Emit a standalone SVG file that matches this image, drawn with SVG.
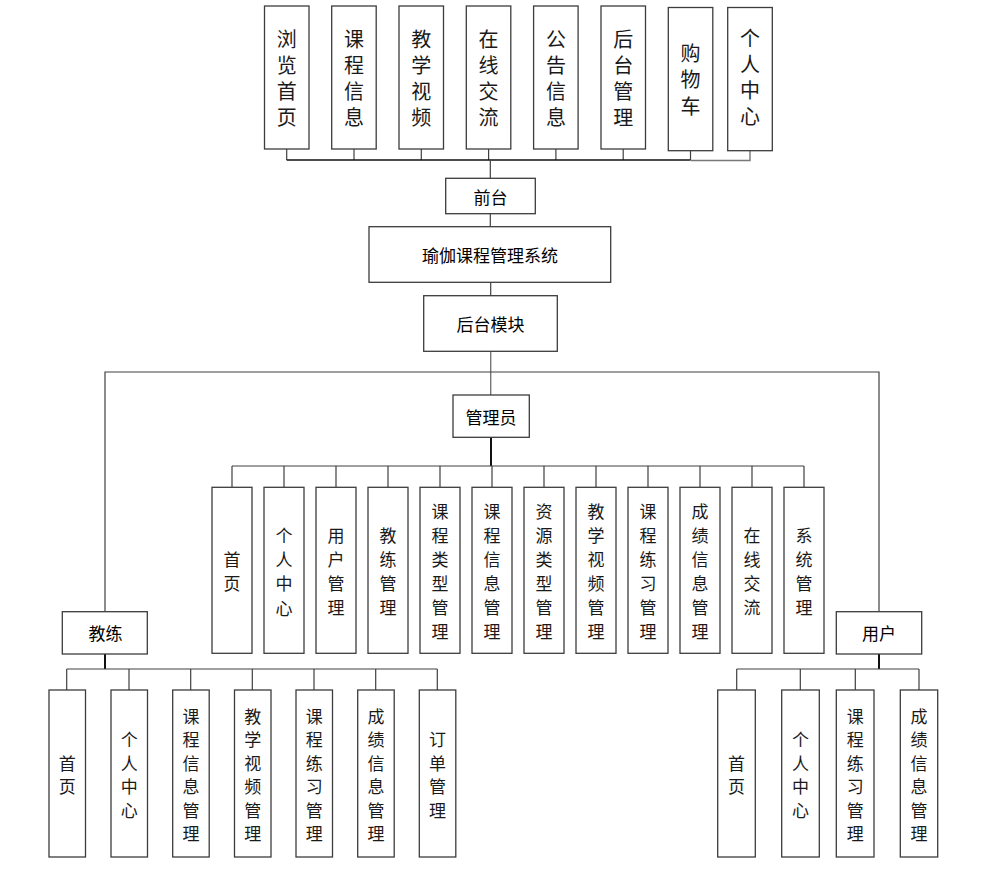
<svg xmlns="http://www.w3.org/2000/svg" width="983" height="881" viewBox="0 0 983 881">
<style>
.box{fill:#ffffff;stroke:#3c3c3c;stroke-width:1.3}
.ln{fill:none;stroke:#404040;stroke-width:1.2}
.lt{fill:none;stroke:#111111;stroke-width:2}
.lg{fill:none;stroke:#777777;stroke-width:1.4}
.t20{font-family:"Noto Sans CJK SC","Noto Sans",sans-serif;font-size:20px;fill:#1a1a1a;text-anchor:middle;dominant-baseline:central}
.t17{font-family:"Noto Sans CJK SC","Noto Sans",sans-serif;font-size:17px;fill:#1a1a1a;text-anchor:middle;dominant-baseline:central}
.lb{font-family:"Noto Sans CJK SC","Noto Sans",sans-serif;font-size:17px;fill:#000000;text-anchor:middle;dominant-baseline:central}
</style>
<rect width="983" height="881" fill="#ffffff"/>
<g id="connectors">
<!-- top bus -->
<path class="ln" d="M286.7 149V160M354 149V160M421.3 149V160M488.6 149V160M555.9 149V160M623.2 149V160M690.5 150.7V160"/>
<path class="lt" d="M286.7 160H690.5" style="stroke-width:1.6"/>
<path class="lg" d="M690.5 160.5H750V150.7"/>
<path class="ln" d="M490.3 160V178.3"/>
<path class="ln" d="M490.3 213.7V226.7"/>
<path class="ln" d="M490.7 282.3V295.7"/>
<path class="lg" d="M490.7 351.3V395"/>
<path class="ln" d="M105 612V372H879V612"/>
<!-- admin bus -->
<path class="lt" d="M491 437.3V466"/>
<path class="ln" d="M232 466H804"/>
<path class="ln" d="M232 466V487.3M284 466V487.3M336 466V487.3M388 466V487.3M440 466V487.3M492 466V487.3M544 466V487.3M596 466V487.3M648 466V487.3M700 466V487.3M752 466V487.3M804 466V487.3"/>
<!-- coach bus -->
<path class="lt" d="M105 654V669"/>
<path class="ln" d="M66.7 669H437.3"/>
<path class="ln" d="M66.7 669V690M129 669V690M190.7 669V690M252.3 669V690M314 669V690M375.7 669V690M437.3 669V690"/>
<!-- user bus -->
<path class="lt" d="M879 654V669"/>
<path class="ln" d="M736.7 669H919"/>
<path class="ln" d="M736.7 669V690M800.3 669V690M855.3 669V690M919 669V690"/>
</g>

<!-- top row -->
<g id="n-liulan"><rect class="box" x="264.5" y="6" width="44.5" height="143"/><text class="t20"><tspan x="286.7" y="37.5">浏</tspan><tspan x="286.7" y="63.8">览</tspan><tspan x="286.7" y="90.1">首</tspan><tspan x="286.7" y="116.4">页</tspan></text></g>
<g id="n-kcxx"><rect class="box" x="331.7" y="6" width="44.5" height="143"/><text class="t20"><tspan x="354" y="37.5">课</tspan><tspan x="354" y="63.8">程</tspan><tspan x="354" y="90.1">信</tspan><tspan x="354" y="116.4">息</tspan></text></g>
<g id="n-jxsp"><rect class="box" x="399" y="6" width="44.5" height="143"/><text class="t20"><tspan x="421.3" y="37.5">教</tspan><tspan x="421.3" y="63.8">学</tspan><tspan x="421.3" y="90.1">视</tspan><tspan x="421.3" y="116.4">频</tspan></text></g>
<g id="n-zxjl"><rect class="box" x="466.3" y="6" width="44.5" height="143"/><text class="t20"><tspan x="488.6" y="37.5">在</tspan><tspan x="488.6" y="63.8">线</tspan><tspan x="488.6" y="90.1">交</tspan><tspan x="488.6" y="116.4">流</tspan></text></g>
<g id="n-ggxx"><rect class="box" x="533.6" y="6" width="44.5" height="143"/><text class="t20"><tspan x="555.9" y="37.5">公</tspan><tspan x="555.9" y="63.8">告</tspan><tspan x="555.9" y="90.1">信</tspan><tspan x="555.9" y="116.4">息</tspan></text></g>
<g id="n-htgl"><rect class="box" x="601" y="6" width="44.5" height="143"/><text class="t20"><tspan x="623.2" y="37.5">后</tspan><tspan x="623.2" y="63.8">台</tspan><tspan x="623.2" y="90.1">管</tspan><tspan x="623.2" y="116.4">理</tspan></text></g>
<g id="n-gwc"><rect class="box" x="668.3" y="7.5" width="44.5" height="143.2"/><text class="t20"><tspan x="690.5" y="52">购</tspan><tspan x="690.5" y="78.3">物</tspan><tspan x="690.5" y="104.6">车</tspan></text></g>
<g id="n-grzx"><rect class="box" x="727.7" y="7.5" width="44.6" height="143.2"/><text class="t20"><tspan x="750" y="36.5">个</tspan><tspan x="750" y="62.8">人</tspan><tspan x="750" y="89.1">中</tspan><tspan x="750" y="115.4">心</tspan></text></g>

<g id="n-qiantai"><rect class="box" x="445.7" y="178.3" width="89.6" height="35.4"/><text class="lb" x="490.5" y="196">前台</text></g>
<g id="n-system"><rect class="box" x="369" y="226.7" width="241.7" height="55.6"/><text class="lb" x="490" y="254.5">瑜伽课程管理系统</text></g>
<g id="n-houtai"><rect class="box" x="423.7" y="295.7" width="133.6" height="55.6"/><text class="lb" x="490.5" y="323.5">后台模块</text></g>
<g id="n-admin"><rect class="box" x="453" y="395" width="76.3" height="42.3"/><text class="lb" x="491" y="416.2">管理员</text></g>
<g id="n-coach"><rect class="box" x="62.3" y="611.7" width="85" height="42.3"/><text class="lb" x="105.5" y="632.9">教练</text></g>
<g id="n-user"><rect class="box" x="836.3" y="611.7" width="85.4" height="42.3"/><text class="lb" x="879" y="632.9">用户</text></g>

<!-- admin row -->
<g id="a-sy"><rect class="box" x="212" y="487.3" width="40" height="166"/><text class="t17"><tspan x="232" y="558.3">首</tspan><tspan x="232" y="582.3">页</tspan></text></g>
<g id="a-grzx"><rect class="box" x="264" y="487.3" width="40" height="166"/><text class="t17"><tspan x="284" y="533.8">个</tspan><tspan x="284" y="558.1">人</tspan><tspan x="284" y="582.4">中</tspan><tspan x="284" y="606.7">心</tspan></text></g>
<g id="a-yhgl"><rect class="box" x="316" y="487.3" width="40" height="166"/><text class="t17"><tspan x="336" y="534.3">用</tspan><tspan x="336" y="558.3">户</tspan><tspan x="336" y="582.3">管</tspan><tspan x="336" y="606.3">理</tspan></text></g>
<g id="a-jlgl"><rect class="box" x="368" y="487.3" width="40" height="166"/><text class="t17"><tspan x="388" y="534.3">教</tspan><tspan x="388" y="558.3">练</tspan><tspan x="388" y="582.3">管</tspan><tspan x="388" y="606.3">理</tspan></text></g>
<g id="a-kclx"><rect class="box" x="420" y="487.3" width="40" height="166"/><text class="t17"><tspan x="440" y="510.3">课</tspan><tspan x="440" y="534.3">程</tspan><tspan x="440" y="558.3">类</tspan><tspan x="440" y="582.3">型</tspan><tspan x="440" y="606.3">管</tspan><tspan x="440" y="630.3">理</tspan></text></g>
<g id="a-kcxx"><rect class="box" x="472" y="487.3" width="40" height="166"/><text class="t17"><tspan x="492" y="510.3">课</tspan><tspan x="492" y="534.3">程</tspan><tspan x="492" y="558.3">信</tspan><tspan x="492" y="582.3">息</tspan><tspan x="492" y="606.3">管</tspan><tspan x="492" y="630.3">理</tspan></text></g>
<g id="a-zylx"><rect class="box" x="524" y="487.3" width="40" height="166"/><text class="t17"><tspan x="544" y="510.3">资</tspan><tspan x="544" y="534.3">源</tspan><tspan x="544" y="558.3">类</tspan><tspan x="544" y="582.3">型</tspan><tspan x="544" y="606.3">管</tspan><tspan x="544" y="630.3">理</tspan></text></g>
<g id="a-jxsp"><rect class="box" x="576" y="487.3" width="40" height="166"/><text class="t17"><tspan x="596" y="510.3">教</tspan><tspan x="596" y="534.3">学</tspan><tspan x="596" y="558.3">视</tspan><tspan x="596" y="582.3">频</tspan><tspan x="596" y="606.3">管</tspan><tspan x="596" y="630.3">理</tspan></text></g>
<g id="a-kclxi"><rect class="box" x="628" y="487.3" width="40" height="166"/><text class="t17"><tspan x="648" y="510.3">课</tspan><tspan x="648" y="534.3">程</tspan><tspan x="648" y="558.3">练</tspan><tspan x="648" y="582.3">习</tspan><tspan x="648" y="606.3">管</tspan><tspan x="648" y="630.3">理</tspan></text></g>
<g id="a-cjxx"><rect class="box" x="680" y="487.3" width="40" height="166"/><text class="t17"><tspan x="700" y="510.3">成</tspan><tspan x="700" y="534.3">绩</tspan><tspan x="700" y="558.3">信</tspan><tspan x="700" y="582.3">息</tspan><tspan x="700" y="606.3">管</tspan><tspan x="700" y="630.3">理</tspan></text></g>
<g id="a-zxjl"><rect class="box" x="732" y="487.3" width="40" height="166"/><text class="t17"><tspan x="752" y="534.3">在</tspan><tspan x="752" y="558.3">线</tspan><tspan x="752" y="582.3">交</tspan><tspan x="752" y="606.3">流</tspan></text></g>
<g id="a-xtgl"><rect class="box" x="784" y="487.3" width="40" height="166"/><text class="t17"><tspan x="804" y="534.3">系</tspan><tspan x="804" y="558.3">统</tspan><tspan x="804" y="582.3">管</tspan><tspan x="804" y="606.3">理</tspan></text></g>

<!-- coach row -->
<g id="c-sy"><rect class="box" x="49" y="690" width="36.5" height="167"/><text class="t17"><tspan x="67.2" y="761.7">首</tspan><tspan x="67.2" y="785.2">页</tspan></text></g>
<g id="c-grzx"><rect class="box" x="111" y="690" width="36.5" height="167"/><text class="t17"><tspan x="129.2" y="738.2">个</tspan><tspan x="129.2" y="761.7">人</tspan><tspan x="129.2" y="785.2">中</tspan><tspan x="129.2" y="808.7">心</tspan></text></g>
<g id="c-kcxx"><rect class="box" x="172.7" y="690" width="36.5" height="167"/><text class="t17"><tspan x="191" y="714.7">课</tspan><tspan x="191" y="738.2">程</tspan><tspan x="191" y="761.7">信</tspan><tspan x="191" y="785.2">息</tspan><tspan x="191" y="808.7">管</tspan><tspan x="191" y="832.2">理</tspan></text></g>
<g id="c-jxsp"><rect class="box" x="234.5" y="690" width="36.5" height="167"/><text class="t17"><tspan x="252.7" y="714.7">教</tspan><tspan x="252.7" y="738.2">学</tspan><tspan x="252.7" y="761.7">视</tspan><tspan x="252.7" y="785.2">频</tspan><tspan x="252.7" y="808.7">管</tspan><tspan x="252.7" y="832.2">理</tspan></text></g>
<g id="c-kclx"><rect class="box" x="296" y="690" width="36.5" height="167"/><text class="t17"><tspan x="314.2" y="714.7">课</tspan><tspan x="314.2" y="738.2">程</tspan><tspan x="314.2" y="761.7">练</tspan><tspan x="314.2" y="785.2">习</tspan><tspan x="314.2" y="808.7">管</tspan><tspan x="314.2" y="832.2">理</tspan></text></g>
<g id="c-cjxx"><rect class="box" x="357.7" y="690" width="36.5" height="167"/><text class="t17"><tspan x="376" y="714.7">成</tspan><tspan x="376" y="738.2">绩</tspan><tspan x="376" y="761.7">信</tspan><tspan x="376" y="785.2">息</tspan><tspan x="376" y="808.7">管</tspan><tspan x="376" y="832.2">理</tspan></text></g>
<g id="c-ddgl"><rect class="box" x="419.3" y="690" width="36.5" height="167"/><text class="t17"><tspan x="437.5" y="738.2">订</tspan><tspan x="437.5" y="761.7">单</tspan><tspan x="437.5" y="785.2">管</tspan><tspan x="437.5" y="808.7">理</tspan></text></g>

<!-- user row -->
<g id="u-sy"><rect class="box" x="717.7" y="690" width="37.6" height="167"/><text class="t17"><tspan x="736.5" y="761.7">首</tspan><tspan x="736.5" y="785.2">页</tspan></text></g>
<g id="u-grzx"><rect class="box" x="781.7" y="690" width="37.6" height="167"/><text class="t17"><tspan x="800.5" y="738.2">个</tspan><tspan x="800.5" y="761.7">人</tspan><tspan x="800.5" y="785.2">中</tspan><tspan x="800.5" y="808.7">心</tspan></text></g>
<g id="u-kclx"><rect class="box" x="836.3" y="690" width="37.7" height="167"/><text class="t17"><tspan x="855.2" y="714.7">课</tspan><tspan x="855.2" y="738.2">程</tspan><tspan x="855.2" y="761.7">练</tspan><tspan x="855.2" y="785.2">习</tspan><tspan x="855.2" y="808.7">管</tspan><tspan x="855.2" y="832.2">理</tspan></text></g>
<g id="u-cjxx"><rect class="box" x="900.3" y="690" width="37.4" height="167"/><text class="t17"><tspan x="919" y="714.7">成</tspan><tspan x="919" y="738.2">绩</tspan><tspan x="919" y="761.7">信</tspan><tspan x="919" y="785.2">息</tspan><tspan x="919" y="808.7">管</tspan><tspan x="919" y="832.2">理</tspan></text></g>
</svg>
